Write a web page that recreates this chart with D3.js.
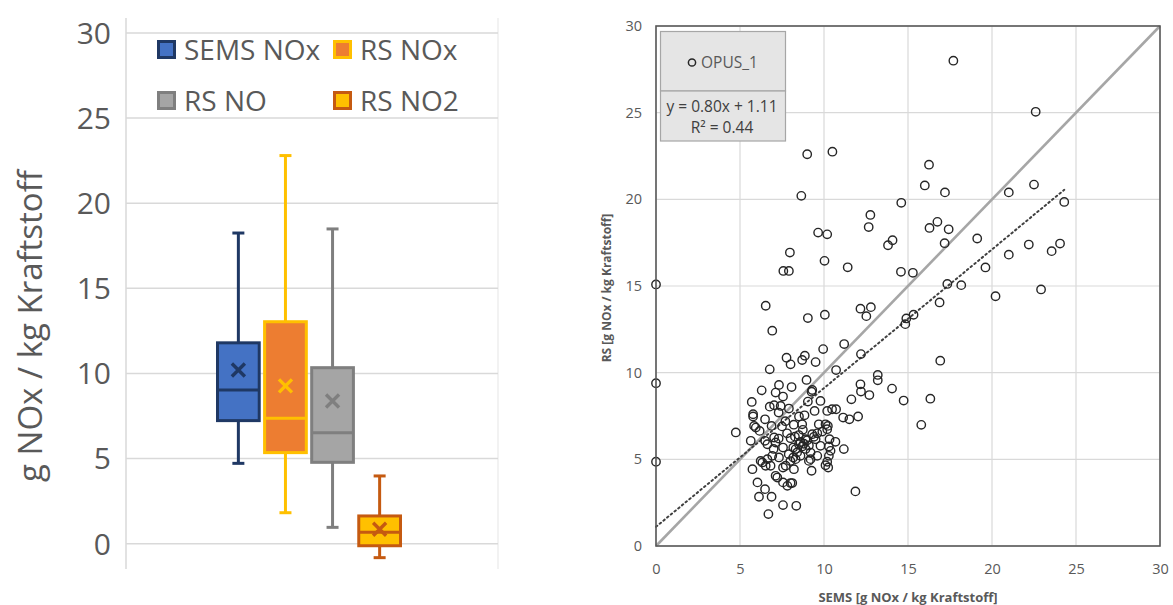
<!DOCTYPE html>
<html>
<head>
<meta charset="utf-8">
<script src="https://cdn.jsdelivr.net/npm/d3@7"></script>
<style>
  body { margin: 0; background: #fff; }
  svg { display: block; }
  text { font-family: "Open Sans", "Noto Sans", sans-serif; }
</style>
</head>
<body>
<svg id="chart" width="1173" height="605"></svg>
<script>
// ---- Box plot data (g NOx / kg Kraftstoff) ----
const seriesNames = ["SEMS NOx", "RS NOx", "RS NO", "RS NO2"];
const whiskerLow  = [4.72, 1.82, 0.96, -0.82];
const quartile1   = [7.23, 5.35, 4.78, -0.12];
const medians     = [9.03, 7.37, 6.52, 0.67];
const quartile3   = [11.8, 13.04, 10.34, 1.63];
const whiskerHigh = [18.25, 22.8, 18.49, 3.98];
const means       = [10.2, 9.27, 8.38, 0.85];
const boxTicks    = [0, 5, 10, 15, 20, 25, 30];

// ---- Scatter data: SEMS vs RS, OPUS_1 ----
const semsValues = [
  17.7, 22.6, 9.0, 10.5, 16.25, 8.65, 16.0, 17.2, 21.0, 22.5, 14.6, 24.3,
  12.76, 12.66, 16.28, 16.75, 9.65, 10.19, 13.81, 14.08, 7.97, 10.03, 7.58, 7.91,
  11.41, 14.58, 15.29, 0, 6.53, 9.04, 10.05, 6.92, 12.17, 12.79, 12.52, 14.9,
  14.84, 15.33, 7.77, 8.01, 8.86, 8.7, 9.5, 9.95, 11.2, 12.2, 6.77, 10.72,
  17.42, 17.18, 19.12, 21.0, 22.19, 24.05, 23.55, 19.61, 17.34, 18.17, 20.21, 22.92,
  16.88, 16.92, 16.33,
  0, 0, 13.2, 13.2, 12.17, 12.2, 12.7, 14.05, 14.74, 15.79, 11.63, 8.96,
  9.3, 9.26, 7.32, 8.07, 7.12, 7.56, 6.29, 5.7, 6.77, 7.03, 7.42, 7.91,
  9.04, 9.79, 9.44, 10.19, 10.48, 10.72, 11.14, 11.51, 12.03, 8.51, 8.84, 5.78,
  5.78, 6.49, 4.75, 5.94, 5.84, 6.17, 6.88, 8.7, 8.74, 9.69, 10.09, 10.23,
  10.19, 5.64, 6.49, 6.63, 7.03, 7.12, 7.56, 8.01, 8.27, 8.51, 8.7, 8.9,
  9.3, 9.5, 9.79, 10.33, 10.68, 10.29, 10.39, 10.29, 10.19, 10.09, 10.25, 11.18,
  8.17, 8.31, 8.17, 8.31, 9.2, 9.2, 9.1, 9.26, 8.21, 7.72, 7.32, 7.56,
  6.92, 6.63, 6.33, 6.23, 6.53, 6.82, 7.12, 7.22, 7.56, 7.82, 8.01, 8.11,
  5.74, 6.04, 6.49, 6.13, 6.88, 7.56, 8.35, 6.69, 11.87,
  8.6, 8.8, 9.0, 8.9, 9.1, 8.4, 8.6, 9.4, 9.6, 8.5, 7.8, 7.5,
  7.3, 7.0, 7.9, 8.0, 9.6, 9.9, 7.7, 8.2, 7.3
];
const rsValues = [
  28.0, 25.05, 22.6, 22.75, 22.0, 20.2, 20.8, 20.4, 20.4, 20.85, 19.8, 19.85,
  19.1, 18.4, 18.35, 18.7, 18.08, 17.98, 17.35, 17.64, 16.93, 16.45, 15.87, 15.87,
  16.08, 15.82, 15.76, 15.09, 13.86, 13.15, 13.34, 12.42, 13.69, 13.78, 13.26, 13.13,
  12.8, 13.34, 10.86, 10.48, 10.98, 10.73, 10.61, 11.36, 11.65, 11.07, 10.19, 10.15,
  18.27, 17.47, 17.74, 16.81, 17.39, 17.45, 17.01, 16.07, 15.12, 15.05, 14.41, 14.8,
  14.05, 10.69, 8.5,
  9.39, 4.86, 9.87, 9.56, 9.33, 8.91, 8.71, 9.08, 8.39, 6.99, 8.46, 9.58,
  9.0, 8.9, 9.29, 9.17, 8.85, 8.62, 8.98, 8.31, 8.04, 8.12, 8.08, 7.93,
  8.33, 8.37, 7.79, 7.79, 7.89, 7.89, 7.41, 7.31, 7.47, 7.47, 7.54, 7.6,
  7.47, 7.31, 6.55, 6.83, 6.93, 6.64, 6.93, 7.02, 6.7, 7.02, 7.02, 6.93,
  6.74, 6.07, 6.07, 5.87, 6.26, 5.97, 5.68, 6.22, 6.31, 5.87, 5.74, 6.16,
  6.45, 6.16, 5.78, 6.16, 6.01, 5.74, 5.49, 5.2, 4.86, 4.66, 4.53, 5.59,
  5.68, 5.59, 5.11, 5.01, 5.39, 5.01, 4.91, 4.34, 4.43, 4.63, 5.11, 4.53,
  5.2, 5.01, 4.82, 4.91, 4.63, 4.63, 4.05, 3.95, 3.67, 3.47, 3.63, 3.63,
  4.43, 3.67, 3.28, 2.84, 2.84, 2.36, 2.32, 1.84, 3.15,
  6.0, 5.9, 6.1, 5.6, 5.8, 5.4, 5.2, 6.3, 6.5, 6.4, 6.5, 6.9,
  6.2, 5.6, 5.3, 4.9, 5.2, 6.6, 7.2, 7.0, 7.7
];
const scatterTicks = [0, 5, 10, 15, 20, 25, 30];
const trendSlope = 0.80;
const trendIntercept = 1.11;
const seriesLabel = "OPUS_1";
const equationText = "y = 0.80x + 1.11";
const r2Text = "R² = 0.44";

const svg = d3.select("#chart");

// ================= Left: box plots =================
const boxFill   = ["#4472C4", "#ED7D31", "#A5A5A5", "#FFC000"];
const boxStroke = ["#1F3864", "#FFC000", "#7F7F7F", "#C55A11"];
const textGrey = "#595959";

const yBox = d3.scaleLinear().domain([0, 30]).range([543.7, 33]);
const xBand = d3.scaleBand().domain(seriesNames).range([216, 402]).paddingInner(0.05);
const plotL = 126, plotR = 498, plotT = 18, plotB = 569;

const left = svg.append("g");
// plot frame lines (light)
left.append("line").attr("x1", plotL).attr("x2", plotL).attr("y1", plotT).attr("y2", plotB)
  .attr("stroke", "#d9d9d9").attr("stroke-width", 1.5);
left.append("line").attr("x1", plotR).attr("x2", plotR).attr("y1", plotT).attr("y2", plotB)
  .attr("stroke", "#eeeeee").attr("stroke-width", 1.5);
// horizontal gridlines
left.selectAll("line.grid").data(boxTicks).enter().append("line")
  .attr("class", "grid")
  .attr("x1", plotL).attr("x2", plotR)
  .attr("y1", d => yBox(d)).attr("y2", d => yBox(d))
  .attr("stroke", "#d9d9d9").attr("stroke-width", 1.5);
// tick labels
left.selectAll("text.tick").data(boxTicks).enter().append("text")
  .attr("class", "tick")
  .attr("x", 111).attr("y", d => yBox(d))
  .attr("dy", "0.36em").attr("text-anchor", "end")
  .attr("font-size", 30).attr("fill", textGrey)
  .text(d => d);
// axis title
left.append("text")
  .attr("transform", "translate(42,326) rotate(-90)")
  .attr("text-anchor", "middle").attr("font-size", 33).attr("fill", textGrey)
  .text("g NOx / kg Kraftstoff");

// boxes
const boxes = left.selectAll("g.box").data(seriesNames).enter().append("g").attr("class", "box");
boxes.each(function (name, i) {
  const g = d3.select(this);
  const x0 = xBand(name), w = xBand.bandwidth(), cx = x0 + w / 2;
  const sw = 3;
  // whiskers
  g.append("line").attr("x1", cx).attr("x2", cx)
    .attr("y1", yBox(whiskerHigh[i])).attr("y2", yBox(quartile3[i]))
    .attr("stroke", boxStroke[i]).attr("stroke-width", sw);
  g.append("line").attr("x1", cx).attr("x2", cx)
    .attr("y1", yBox(quartile1[i])).attr("y2", yBox(whiskerLow[i]))
    .attr("stroke", boxStroke[i]).attr("stroke-width", sw);
  [whiskerHigh[i], whiskerLow[i]].forEach(v => {
    g.append("line").attr("x1", cx - 6).attr("x2", cx + 6)
      .attr("y1", yBox(v)).attr("y2", yBox(v))
      .attr("stroke", boxStroke[i]).attr("stroke-width", sw);
  });
  // box
  g.append("rect")
    .attr("x", x0 + sw / 2).attr("width", w - sw)
    .attr("y", yBox(quartile3[i])).attr("height", yBox(quartile1[i]) - yBox(quartile3[i]))
    .attr("fill", boxFill[i]).attr("stroke", boxStroke[i]).attr("stroke-width", sw);
  // median
  g.append("line").attr("x1", x0 + sw / 2).attr("x2", x0 + w - sw / 2)
    .attr("y1", yBox(medians[i])).attr("y2", yBox(medians[i]))
    .attr("stroke", boxStroke[i]).attr("stroke-width", sw);
  // mean marker
  const my = yBox(means[i]), s = 6.5;
  g.append("path")
    .attr("d", `M${cx - s},${my - s}L${cx + s},${my + s}M${cx - s},${my + s}L${cx + s},${my - s}`)
    .attr("stroke", boxStroke[i]).attr("stroke-width", 3.4).attr("fill", "none");
});

// legend
const legendPos = [[157, 50], [333, 50], [157, 101], [333, 101]];
const legend = left.selectAll("g.leg").data(seriesNames).enter().append("g")
  .attr("class", "leg")
  .attr("transform", (d, i) => `translate(${legendPos[i][0]},${legendPos[i][1]})`);
legend.append("rect")
  .attr("x", 1.5).attr("y", -8.5).attr("width", 16).attr("height", 16)
  .attr("fill", (d, i) => boxFill[i]).attr("stroke", (d, i) => boxStroke[i]).attr("stroke-width", 3);
legend.append("text")
  .attr("x", 27).attr("y", 0).attr("dy", "0.36em")
  .attr("font-size", 28).attr("fill", textGrey)
  .text(d => d);

// ================= Right: scatter =================
const xS = d3.scaleLinear().domain([0, 30]).range([656, 1160]);
const yS = d3.scaleLinear().domain([0, 30]).range([546, 26]);
const right = svg.append("g");

// gridlines
right.selectAll("line.vg").data(scatterTicks).enter().append("line")
  .attr("x1", d => xS(d)).attr("x2", d => xS(d)).attr("y1", yS(0)).attr("y2", yS(30))
  .attr("stroke", "#d9d9d9").attr("stroke-width", 1.2);
right.selectAll("line.hg").data(scatterTicks).enter().append("line")
  .attr("y1", d => yS(d)).attr("y2", d => yS(d)).attr("x1", xS(0)).attr("x2", xS(30))
  .attr("stroke", "#d9d9d9").attr("stroke-width", 1.2);

// axes (labels only; frame drawn separately)
const xAxis = d3.axisBottom(xS).tickValues(scatterTicks).tickSize(0).tickPadding(18);
const yAxis = d3.axisLeft(yS).tickValues(scatterTicks).tickSize(0).tickPadding(14);
const gx = right.append("g").attr("transform", `translate(0,${yS(0)})`).call(xAxis);
const gy = right.append("g").attr("transform", `translate(${xS(0)},0)`).call(yAxis);
[gx, gy].forEach(g => {
  g.select(".domain").remove();
  g.selectAll("text").attr("font-size", 14.5).attr("fill", textGrey)
    .attr("font-family", "\"Open Sans\", sans-serif");
});

// 1:1 reference line
right.append("line")
  .attr("x1", xS(0)).attr("y1", yS(0)).attr("x2", xS(30)).attr("y2", yS(30))
  .attr("stroke", "#a6a6a6").attr("stroke-width", 2.6);

// linear trend line
const xMax = d3.max(semsValues);
right.append("line")
  .attr("x1", xS(0)).attr("y1", yS(trendIntercept))
  .attr("x2", xS(xMax)).attr("y2", yS(trendSlope * xMax + trendIntercept))
  .attr("stroke", "#404040").attr("stroke-width", 2)
  .attr("stroke-dasharray", "1.6,3.2").attr("stroke-linecap", "round");

// points
const pts = semsValues.map((v, i) => [v, rsValues[i]]);
right.selectAll("circle.pt").data(pts).enter().append("circle")
  .attr("class", "pt")
  .attr("cx", d => xS(d[0])).attr("cy", d => yS(d[1])).attr("r", 4.2)
  .attr("fill", "none").attr("stroke", "#262626").attr("stroke-width", 1.4);

// frame
right.append("rect")
  .attr("x", xS(0)).attr("y", yS(30)).attr("width", xS(30) - xS(0)).attr("height", yS(0) - yS(30))
  .attr("fill", "none").attr("stroke", "#595959").attr("stroke-width", 1.6);

// legend / equation box
const lb = right.append("g");
lb.append("rect").attr("x", 660.5).attr("y", 31.5).attr("width", 125).attr("height", 59.5)
  .attr("fill", "#e5e5e5").attr("stroke", "#a6a6a6").attr("stroke-width", 1.2);
lb.append("rect").attr("x", 660.5).attr("y", 91).attr("width", 125).attr("height", 50)
  .attr("fill", "#e5e5e5").attr("stroke", "#a6a6a6").attr("stroke-width", 1.2);
lb.append("circle").attr("cx", 692).attr("cy", 62.5).attr("r", 3.6)
  .attr("fill", "none").attr("stroke", "#262626").attr("stroke-width", 1.5);
lb.append("text").attr("x", 701).attr("y", 62.5).attr("dy", "0.36em")
  .attr("font-size", 15.5).attr("fill", textGrey).text(seriesLabel);
lb.append("text").attr("x", 722).attr("y", 106.5).attr("dy", "0.36em").attr("text-anchor", "middle")
  .attr("font-size", 15.5).attr("fill", "#404040").text(equationText);
lb.append("text").attr("x", 722).attr("y", 127.5).attr("dy", "0.36em").attr("text-anchor", "middle")
  .attr("font-size", 15.5).attr("fill", "#404040").text(r2Text);

// axis titles
right.append("text").attr("x", 908).attr("y", 602).attr("text-anchor", "middle")
  .attr("font-size", 13).attr("font-weight", "bold").attr("fill", textGrey)
  .text("SEMS [g NOx / kg Kraftstoff]");
right.append("text").attr("transform", "translate(611,288) rotate(-90)").attr("text-anchor", "middle")
  .attr("font-size", 12).attr("font-weight", "bold").attr("fill", textGrey)
  .text("RS [g NOx / kg Kraftstoff]");
</script>
</body>
</html>
